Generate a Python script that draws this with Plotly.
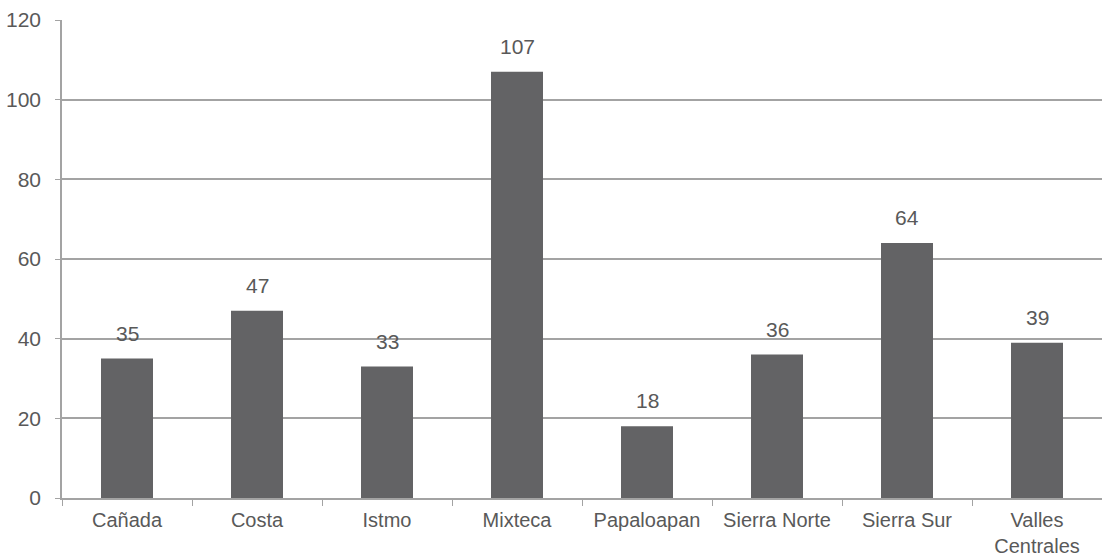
import plotly.graph_objects as go

categories = ["Cañada", "Costa", "Istmo", "Mixteca", "Papaloapan", "Sierra Norte", "Sierra Sur", "Valles<br>Centrales"]
values = [35, 47, 33, 107, 18, 36, 64, 39]
y_ticks = [0, 20, 40, 60, 80, 100, 120]

text_color = "#595959"
grid_color = "#a3a3a3"
bar_color = "#636365"
font = dict(family="Liberation Sans, Arial, sans-serif", size=21, color=text_color)

fig = go.Figure()
fig.add_trace(go.Bar(x=categories, y=values, marker=dict(color=bar_color, line=dict(width=0)), width=0.4))

for c, v in zip(categories, values):
    fig.add_annotation(x=c, y=v, text=str(v), showarrow=False, yanchor="bottom", yshift=12, font=font)

fig.update_layout(
    width=1102, height=556,
    margin=dict(l=62, r=0, t=20, b=58),
    plot_bgcolor="white", paper_bgcolor="white",
    font=font, showlegend=False, bargap=0.6,
)
fig.update_yaxes(range=[0, 120], tickvals=y_ticks, showgrid=True, gridcolor=grid_color, gridwidth=1.5,
                 showline=True, linecolor=grid_color, linewidth=1.5, ticks="outside", ticklen=5,
                 tickcolor=grid_color, zeroline=False, ticklabelstandoff=10, automargin=False)
fig.update_xaxes(showline=True, linecolor=grid_color, linewidth=1.5, ticks="outside", ticklen=6,
                 tickcolor=grid_color, tickson="boundaries", showgrid=False, ticklabelstandoff=3,
                 tickfont=dict(size=20), automargin=False)

fig.write_html("out.html", config={"displayModeBar": False},
               post_script="document.body.style.margin='0px';document.body.style.overflow='hidden';")
